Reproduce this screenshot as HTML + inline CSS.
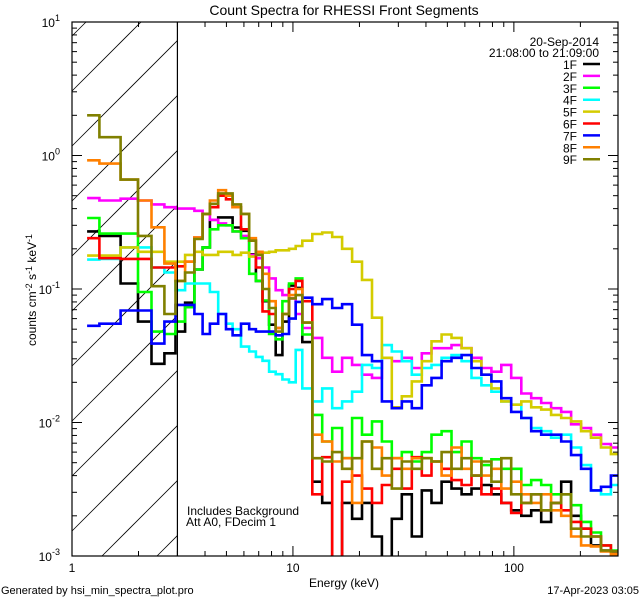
<!DOCTYPE html>
<html><head><meta charset="utf-8"><style>
html,body{margin:0;padding:0;background:#fff;width:640px;height:600px;overflow:hidden;}
svg{display:block;font-family:"Liberation Sans","DejaVu Sans",sans-serif;}
</style></head><body>
<svg id="chart" width="640" height="600" viewBox="0 0 640 600" xmlns="http://www.w3.org/2000/svg">
<rect x="0" y="0" width="640" height="600" fill="#fff"/>
<text x="344" y="15" font-size="14" text-anchor="middle">Count Spectra for RHESSI Front Segments</text>
<g id="hatch"></g>
<g id="series"></g>
<g id="axes"></g>
<text x="344" y="587" font-size="12" text-anchor="middle">Energy (keV)</text>
<text transform="translate(36,290) rotate(-90)" font-size="12" text-anchor="middle">counts cm<tspan dy="-4" font-size="9">-2</tspan><tspan dy="4"> s</tspan><tspan dy="-4" font-size="9">-1</tspan><tspan dy="4"> keV</tspan><tspan dy="-4" font-size="9">-1</tspan></text>
<text x="187" y="515" font-size="12">Includes Background</text>
<text x="186" y="526" font-size="12">Att A0, FDecim 1</text>
<text x="1" y="594" font-size="11">Generated by hsi_min_spectra_plot.pro</text>
<text x="639" y="594" font-size="11" text-anchor="end">17-Apr-2023 03:05</text>
<text x="599" y="46" font-size="12" text-anchor="end">20-Sep-2014</text>
<text x="599" y="57" font-size="12" text-anchor="end">21:08:00 to 21:09:00</text>
<g id="legend"></g>
</svg>
<script>
const edges=[1.17,1.33,1.66,1.99,2.29,2.62,2.94,3.25,3.58,3.90,4.21,4.59,4.98,5.33,5.82,6.34,6.80,7.28,7.80,8.36,8.96,9.60,10.29,11.02,12.23,13.56,15.05,16.69,18.52,20.54,22.79,25.28,28.03,31.1,34.5,38.3,42.4,47.1,52.2,58.0,64.3,71.3,79.1,87.7,97.3,108,119.8,132.9,147.4,163.8,181.6,201.5,223.5,247.9,274.9,296];
const seriesNames=["1F","2F","3F","4F","5F","6F","7F","8F","9F"];
const seriesColors=["#000000","#ff00ff","#00ff00","#00ffff","#d4cc00","#ff0000","#0000ff","#ff8000","#808000"];
const s1F=[.27,.25,.11,.057,.0275,.033,.048,.079,.14,.205,.33,.344,.344,.289,.273,.182,.115,.081,.054,.032,.057,.106,.102,
.04,.0036,.0025,.00098,.0025,.0019,.0025,.0014,.00098,.0019,.0029,.0014,.0031,.0025,.0036,.0032,.0029,.0032,.0034,.0029,.0025,.0022,.002,.0022,.0018,.0025,.0036,.002,.0016,.0012,.0011,.00108];
const s2F=[.48,.46,.475,.46,.43,.41,.40,.40,.385,.365,.33,.31,.30,.27,.25,.18,.17,.145,.12,.098,.09,.085,.065,
.051,.043,.0305,.024,.0305,.027,.0228,.0216,.0305,.0288,.0305,.0256,.033,.036,.036,.038,.036,.0305,.0256,.024,.027,.0216,.0165,.0152,.014,.0128,.012,.0097,.0091,.0081,.0069,.0065];
const s3F=[.34,.26,.26,.095,.048,.046,.057,.073,.14,.205,.28,.30,.30,.27,.24,.13,.115,.082,.046,.042,.081,.11,.12,
.0456,.0114,.0072,.0091,.0054,.0108,.0081,.0102,.0072,.0054,.006,.0051,.006,.0081,.0086,.006,.0072,.0054,.0048,.0053,.0045,.0045,.0034,.0037,.0034,.0029,.0029,.0024,.0018,.0015,.0012,.0011];
const s4F=[.166,.168,.205,.205,.145,.133,.098,.11,.11,.11,.095,.065,.055,.05,.037,.034,.031,.029,.024,.023,.021,.02,.035,
.018,.0144,.018,.0128,.0144,.017,.027,.0256,.038,.034,.0288,.0228,.0256,.027,.0305,.032,.0288,.0216,.019,.017,.0144,.0136,.0108,.0091,.0086,.0077,.0081,.0065,.0048,.0031,.0029,.0034];
const s5F=[.178,.178,.205,.19,.19,.16,.16,.18,.19,.18,.18,.19,.19,.18,.187,.175,.187,.187,.19,.195,.195,.20,.21,
.23,.258,.265,.245,.20,.16,.117,.061,.0305,.013,.0157,.0203,.0288,.0406,.0456,.043,.036,.0288,.0228,.018,.0144,.0136,.0144,.013,.0125,.0114,.0108,.0102,.0086,.0077,.0065,.0058];
const s6F=[.24,.17,.168,.168,.145,.145,.148,.16,.243,.365,.41,.50,.47,.41,.28,.23,.145,.068,.065,.051,.065,.10,.115,
.081,.0029,.0055,.00098,.0036,.004,.0032,.0025,.0034,.0045,.0032,.0055,.004,.0051,.0045,.0037,.0034,.004,.0029,.0032,.0025,.0021,.0025,.0029,.0022,.0025,.0022,.0018,.0016,.0014,.0012,.00108];
const s7F=[.053,.055,.069,.069,.039,.057,.076,.076,.065,.046,.055,.065,.05,.045,.055,.05,.048,.048,.048,.045,.046,.06,.08,
.086,.077,.084,.072,.077,.054,.032,.0288,.0144,.0128,.0144,.0128,.019,.0216,.0288,.0305,.032,.0256,.0228,.0203,.0152,.012,.0108,.0086,.0081,.0081,.0072,.0057,.0045,.0031,.0033,.004];
const s8F=[.92,.87,.66,.46,.29,.155,.115,.16,.243,.365,.46,.55,.50,.41,.365,.24,.19,.13,.081,.051,.065,.09,.10,
.056,.0081,.0072,.0051,.0054,.0025,.0072,.0065,.004,.0054,.0045,.0054,.0054,.0051,.004,.0065,.0045,.0051,.004,.0045,.0032,.0036,.0029,.0025,.0029,.0022,.002,.0014,.0012,.00118,.00108,.00103];
const s9F=[2.0,1.37,.66,.25,.105,.065,.115,.133,.237,.365,.435,.52,.52,.43,.365,.23,.18,.10,.072,.048,.065,.085,.09,
.056,.0054,.0051,.006,.0045,.0054,.0072,.0045,.0054,.0032,.0051,.0045,.0054,.0051,.006,.0045,.0054,.004,.0051,.0036,.0054,.0029,.0025,.0029,.0022,.0025,.0029,.0016,.0014,.0014,.0011,.00108];
const xTickLabels=["1","10","100"];
const yTickExps=["1","0","-1","-2","-3"];
const hatchLimit=3;

const NS="http://www.w3.org/2000/svg";
const L=72,R=618,T=22,B=556;
const XMIN=1,XMAX=296,YMIN=0.001,YMAX=10;
function xs(e){return L+(R-L)*(Math.log10(e)-Math.log10(XMIN))/(Math.log10(XMAX)-Math.log10(XMIN));}
function ys(v){v=Math.max(v,YMIN*0.97);return B-(B-T)*(Math.log10(v)-Math.log10(YMIN))/(Math.log10(YMAX)-Math.log10(YMIN));}
function mk(tag,attrs,parent){const el=document.createElementNS(NS,tag);for(const k in attrs)el.setAttribute(k,attrs[k]);parent.appendChild(el);return el;}

const svgEl=document.getElementById('chart');
const defs=mk('defs',{},svgEl);
const pclip=mk('clipPath',{id:'pclip'},defs);
mk('rect',{x:L,y:T,width:R-L,height:B-T},pclip);

// hatch (lines computed inside the region, no overflow)
const hg=document.getElementById('hatch');
const XH=xs(hatchLimit);
for(let k=-12;k<14;k++){
  const y0=B-25-55*k;
  const xa=Math.max(L,L+(y0-B)), xb=Math.min(XH,L+(y0-T));
  if(xb<=xa)continue;
  const ln=mk('line',{x1:xa,y1:y0-(xa-L),x2:xb,y2:y0-(xb-L),stroke:'#000','stroke-width':0.8},hg);
  
  
}
const hl=mk('line',{x1:XH,y1:T,x2:XH,y2:B,stroke:'#000','stroke-width':1.2},svgEl);



// series
const allSeries=[s1F,s2F,s3F,s4F,s5F,s6F,s7F,s8F,s9F];
const sg=document.getElementById('series');
sg.setAttribute('clip-path','url(#pclip)');
allSeries.forEach((vals,i)=>{
  let d='';
  for(let j=0;j<vals.length;j++){
    const x0=xs(edges[j]),x1=xs(edges[j+1]),y=ys(vals[j]);
    d+=(j===0?'M':'L')+x0.toFixed(1)+','+y.toFixed(1)+'L'+x1.toFixed(1)+','+y.toFixed(1);
  }
  const p=mk('path',{d:d,fill:'none',stroke:seriesColors[i],'stroke-width':2.6,'stroke-linejoin':'miter'},sg);
  
  
});

// axes
const ag=document.getElementById('axes');
const fr=mk('rect',{x:L,y:T,width:R-L,height:B-T,fill:'none',stroke:'#000','stroke-width':1.2},ag);


for(let dec=0;dec<3;dec++){
  for(let m=1;m<10;m++){
    const e=Math.pow(10,dec)*m; if(e>XMAX)continue;
    const x=xs(e),len=m===1?10:5;
    mk('line',{x1:x,y1:B,x2:x,y2:B-len,stroke:'#000'},ag);
    mk('line',{x1:x,y1:T,x2:x,y2:T+len,stroke:'#000'},ag);
  }
}
xTickLabels.forEach(lab=>{
  const t=mk('text',{x:xs(+lab),y:572,'font-size':12,'text-anchor':'middle'},ag);
  t.textContent=lab;
  
  
});
for(let ex=-3;ex<1;ex++){
  for(let m=1;m<10;m++){
    const v=Math.pow(10,ex)*m,y=ys(v),len=m===1?10:5;
    mk('line',{x1:L,y1:y,x2:L+len,y2:y,stroke:'#000'},ag);
    mk('line',{x1:R,y1:y,x2:R-len,y2:y,stroke:'#000'},ag);
  }
}
mk('line',{x1:L,y1:ys(10),x2:L+10,y2:ys(10),stroke:'#000'},ag);
yTickExps.forEach(ex=>{
  const t=mk('text',{x:60,y:ys(Math.pow(10,+ex))+5,'font-size':12,'text-anchor':'end'},ag);
  
  
  t.appendChild(document.createTextNode('10'));
  const sp=mk('tspan',{dy:-6,'font-size':9},t);
  sp.textContent=ex;
});

// legend
const lg=document.getElementById('legend');
seriesNames.forEach((n,i)=>{
  const y=64+11.9*i;
  const t=mk('text',{x:577,y:y+5,'font-size':12,'text-anchor':'end'},lg);
  t.textContent=n;
  
  
  const ln=mk('line',{x1:583,y1:y,x2:600,y2:y,stroke:seriesColors[i],'stroke-width':2.5},lg);
  
  
});
</script>
</body></html>
